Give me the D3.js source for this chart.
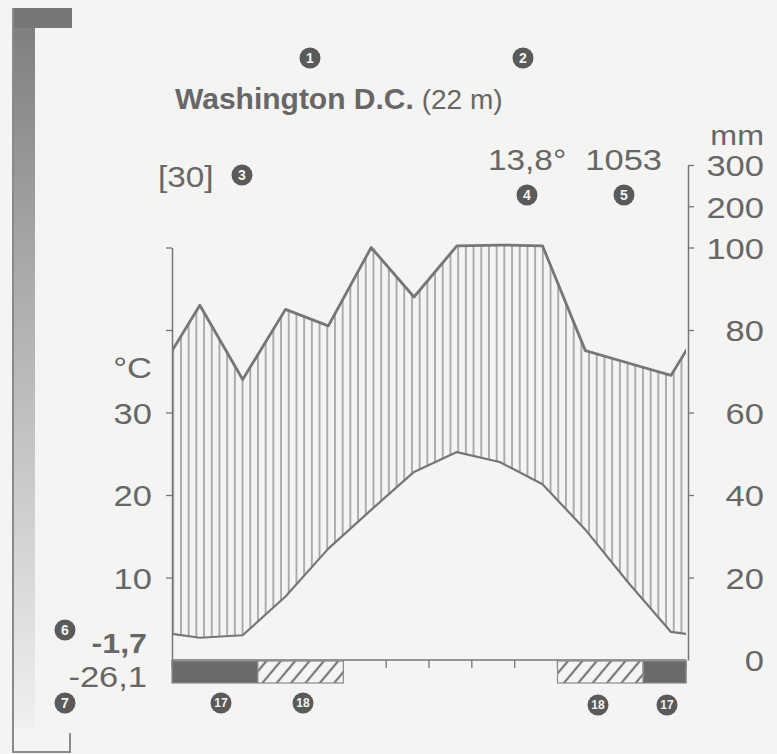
<!DOCTYPE html>
<html>
<head>
<meta charset="utf-8">
<title>Washington D.C.</title>
<script src="https://cdn.jsdelivr.net/npm/d3@7"></script>
<style>
body { margin: 0; background: #f4f4f2; }
svg text { font-family: "Liberation Sans", Arial, sans-serif; fill: #676767; }
</style>
</head>
<body>
<svg id="chart" width="777" height="754"></svg>
<script>
// monthly means
var months = ["J", "F", "M", "A", "M", "J", "J", "A", "S", "O", "N", "D"];
var temp   = [2.7, 3.0, 7.7, 13.5, 18.2, 22.8, 25.2, 24.0, 21.3, 15.8, 9.4, 3.4];
var precip = [86, 68, 85, 81, 100, 88, 104, 106, 104, 75, 72, 69];
// frost bar below the baseline: solid = 17, hatch = 18
var frost  = ["solid", "solid", "hatch", "hatch", "", "", "", "", "", "hatch", "hatch", "solid"];
var tempTicks = [10, 20, 30, 40, 50];
var tempLabels = [10, 20, 30];
var precipTicks = [0, 20, 40, 60, 80, 100, 200, 300];

var svg = d3.select("#chart");
var ink = "#767676";
var SX = 1.15;   // the scanned lettering is a bit wide

var x = d3.scaleLinear().domain([0, 12]).range([172, 686]);
var yT = d3.scaleLinear().domain([0, 50]).range([660, 247.5]);
var yP = d3.scaleLinear().domain([0, 100, 300]).range([660, 247.5, 165]);
var pos = 0.65; // where the monthly point sits inside its month

var defs = svg.append("defs");
var grad = defs.append("linearGradient").attr("id", "fade")
	.attr("x1", 0).attr("y1", 0).attr("x2", 0).attr("y2", 1);
grad.append("stop").attr("offset", "0").attr("stop-color", "#7c7c7c");
grad.append("stop").attr("offset", "0.35").attr("stop-color", "#a8a8a8");
grad.append("stop").attr("offset", "1").attr("stop-color", "#f0f0ee");

var vh = defs.append("pattern").attr("id", "vhatch")
	.attr("patternUnits", "userSpaceOnUse").attr("width", 7.7).attr("height", 10);
vh.append("line").attr("x1", 3.85).attr("x2", 3.85).attr("y1", 0).attr("y2", 10)
	.attr("stroke", "#888").attr("stroke-width", 1.3);

var dg = defs.append("pattern").attr("id", "diag")
	.attr("patternUnits", "userSpaceOnUse").attr("width", 11).attr("height", 11)
	.attr("patternTransform", "rotate(40)");
dg.append("line").attr("x1", 2).attr("x2", 2).attr("y1", 0).attr("y2", 11)
	.attr("stroke", "#777").attr("stroke-width", 2.2);

defs.append("clipPath").attr("id", "plot")
	.append("rect").attr("x", x(0)).attr("y", 100).attr("width", x(12) - x(0)).attr("height", 560);

// left bracket frame
svg.append("rect").attr("x", 13).attr("y", 8).attr("width", 22).attr("height", 720).attr("fill", "url(#fade)");
svg.append("rect").attr("x", 13).attr("y", 8).attr("width", 59).attr("height", 20).attr("fill", "#777");
svg.append("path").attr("d", "M13,8 V752 H70 V733")
	.attr("fill", "none").attr("stroke", "#8a8a8a").attr("stroke-width", 2);

// series wrapped one month each side, clipped to the plot
var wrap = d3.range(-1, 13).map(function(i) {
	var k = (i + 12) % 12;
	return { i: i, t: temp[k], p: precip[k] };
});

var g = svg.append("g").attr("clip-path", "url(#plot)");
g.append("path").datum(wrap)
	.attr("fill", "url(#vhatch)")
	.attr("d", d3.area()
		.x(function(d) { return x(d.i + pos); })
		.y0(function(d) { return yT(d.t); })
		.y1(function(d) { return yP(d.p); }));
g.append("path").datum(wrap)
	.attr("fill", "none").attr("stroke", ink).attr("stroke-width", 2.8).attr("stroke-linejoin", "round")
	.attr("d", d3.line().x(function(d) { return x(d.i + pos); }).y(function(d) { return yP(d.p); }));
g.append("path").datum(wrap)
	.attr("fill", "none").attr("stroke", ink).attr("stroke-width", 2.2).attr("stroke-linejoin", "round")
	.attr("d", d3.line().x(function(d) { return x(d.i + pos); }).y(function(d) { return yT(d.t); }));

// baseline and month ticks
svg.append("line").attr("x1", x(0)).attr("x2", x(12)).attr("y1", yT(0)).attr("y2", yT(0))
	.attr("stroke", ink).attr("stroke-width", 1.5);
svg.selectAll(".mtick").data(d3.range(13)).enter().append("line")
	.attr("class", "mtick")
	.attr("x1", function(d) { return x(d); }).attr("x2", function(d) { return x(d); })
	.attr("y1", yT(0)).attr("y2", yT(0) + 8)
	.attr("stroke", ink).attr("stroke-width", 1.3);

// frost bars
var frostCells = frost.map(function(d, i) { return { type: d, m: i }; })
	.filter(function(d) { return d.type !== ""; });
svg.selectAll(".frost").data(frostCells).enter().append("rect")
	.attr("class", "frost")
	.attr("x", function(d) { return x(d.m); })
	.attr("width", x(1) - x(0) + 0.5)
	.attr("y", yT(0) + 1).attr("height", 22)
	.attr("fill", function(d) { return d.type === "solid" ? "#6a6a6a" : "#f4f4f2"; });
svg.selectAll(".frosth").data(frostCells.filter(function(d) { return d.type === "hatch"; })).enter().append("rect")
	.attr("class", "frosth")
	.attr("x", function(d) { return x(d.m); })
	.attr("width", x(1) - x(0) + 0.5)
	.attr("y", yT(0) + 1).attr("height", 22)
	.attr("fill", "url(#diag)");
var runs = [];
frostCells.forEach(function(d) {
	var last = runs[runs.length - 1];
	if (last && last.type === d.type && last.end === d.m) last.end = d.m + 1;
	else runs.push({ type: d.type, start: d.m, end: d.m + 1 });
});
svg.selectAll(".run").data(runs).enter().append("rect")
	.attr("class", "run")
	.attr("x", function(d) { return x(d.start); })
	.attr("width", function(d) { return x(d.end) - x(d.start); })
	.attr("y", yT(0) + 1).attr("height", 22)
	.attr("fill", "none").attr("stroke", "#8a8a8a").attr("stroke-width", 1.2);

// axes
var left = svg.append("g").attr("transform", "translate(" + x(0) + ",0)")
	.call(d3.axisLeft(yT).tickValues(tempTicks).tickSize(6).tickSizeOuter(0).tickPadding(11.4)
		.tickFormat(function(d) { return tempLabels.indexOf(d) >= 0 ? d : ""; }));
var right = svg.append("g").attr("transform", "translate(688,0)")
	.call(d3.axisRight(yP).tickValues(precipTicks).tickSize(6).tickSizeOuter(0));
[left, right].forEach(function(a) {
	a.attr("font-size", null).attr("font-family", null);
	a.select(".domain").attr("stroke", ink).attr("stroke-width", 1.5);
	a.selectAll(".tick line").attr("stroke", ink).attr("stroke-width", 1.3);
	a.selectAll(".tick text").attr("font-size", 30).attr("fill", "#676767")
		.attr("transform", "scale(" + SX + ",1)").attr("dy", "0.36em");
});
right.selectAll(".tick text").attr("text-anchor", "end").attr("x", 76 / SX);
right.selectAll(".tick").filter(function(d) { return d === 0; }).select("line").remove();

// texts
function label(px, py, str, size, anchor, weight) {
	return svg.append("text")
		.attr("transform", "translate(" + px + "," + py + ") scale(" + SX + ",1)")
		.attr("text-anchor", anchor || "start")
		.attr("font-size", size)
		.attr("font-weight", weight || "normal")
		.text(str);
}
var title = svg.append("text").attr("x", 175).attr("y", 109);
title.append("tspan").attr("font-size", 30).attr("font-weight", "bold").text("Washington D.C.");
title.append("tspan").attr("font-size", 28).text(" (22 m)");

label(158, 187, "[30]", 29);
label(488, 170, "13,8°", 29);
label(662, 170, "1053", 30, "end");
label(764, 145, "mm", 28, "end");
label(152, 378, "°C", 30, "end");
label(147, 653, "-1,7", 28, "end", "bold");
label(147, 687, "-26,1", 30, "end");

// numbered markers
var badges = [[310, 58, "1"], [523, 58, "2"], [242, 175, "3"], [527, 195, "4"], [624, 195, "5"],
	[65, 630, "6"], [65, 703, "7"], [221, 703, "17"], [303, 703, "18"], [598, 705, "18"], [667, 705, "17"]];
badges.forEach(function(b) {
	svg.append("circle").attr("cx", b[0]).attr("cy", b[1]).attr("r", 10.5).attr("fill", "#5a5a5a");
	svg.append("text").attr("x", b[0]).attr("y", b[1]).attr("dy", "0.36em")
		.attr("text-anchor", "middle").attr("font-weight", "bold")
		.attr("font-size", b[2].length > 1 ? 12 : 14)
		.style("fill", "#f4f4f2").text(b[2]);
});
</script>
</body>
</html>
